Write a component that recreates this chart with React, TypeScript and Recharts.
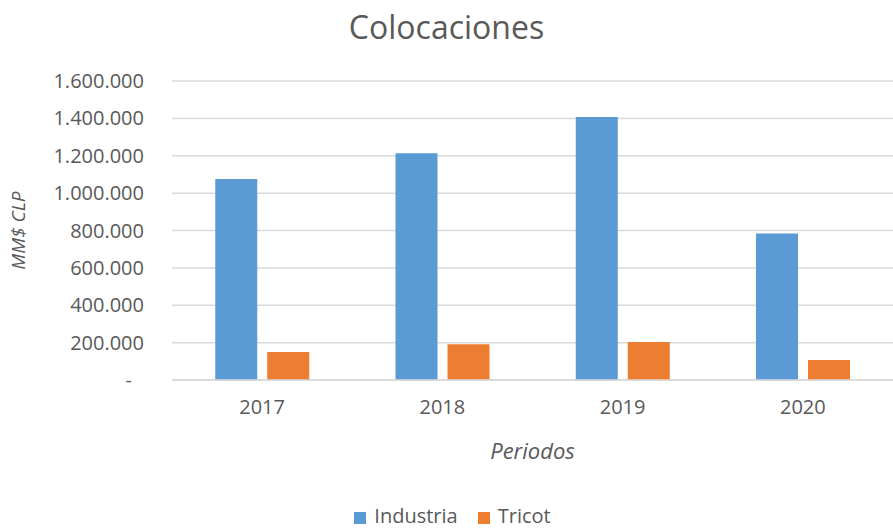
import { Bar, BarChart, CartesianGrid, Legend, XAxis, YAxis } from "recharts";

const periods = ["2017", "2018", "2019", "2020"];
const industria = [1075000, 1213000, 1408000, 784000];
const tricot = [150000, 191000, 204000, 107000];
const yTicks = [0, 200000, 400000, 600000, 800000, 1000000, 1200000, 1400000, 1600000];

const data = periods.map((p, i) => ({
  periodo: p,
  Industria: industria[i],
  Tricot: tricot[i],
}));

const TEXT = "#595959";
const FONT = "'Open Sans', sans-serif";

const fmt = (v: number) =>
  v === 0 ? "-" : String(v).replace(/\B(?=(\d{3})+(?!\d))/g, ".");

const YTick = (props: any) => {
  const { x, y, payload } = props;
  const v = payload.value as number;
  return (
    <text
      x={v === 0 ? x - 12 : x}
      y={y}
      dy={7}
      textAnchor="end"
      fill={TEXT}
      fontSize={20}
      fontFamily={FONT}
    >
      {fmt(v)}
    </text>
  );
};

export default function App() {
  return (
    <div style={{ position: "absolute", left: 0, top: 0, width: 893, height: 529, background: "#fff" }}>
      <div
        style={{
          position: "absolute",
          top: 5,
          width: 893,
          textAlign: "center",
          fontFamily: FONT,
          fontSize: 32,
          color: TEXT,
        }}
      >
        Colocaciones
      </div>
      <BarChart
        width={893}
        height={529}
        data={data}
        margin={{ top: 81, right: 0, bottom: 0, left: 0 }}
        barCategoryGap="24%"
        barGap={10}
      >
        <CartesianGrid vertical={false} stroke="#d9d9d9" strokeWidth={1.5} />
        <XAxis
          dataKey="periodo"
          axisLine={{ stroke: "#d9d9d9", strokeWidth: 1.5 }}
          tickLine={false}
          tick={{ fill: TEXT, fontSize: 20, fontFamily: FONT }}
          tickMargin={14}
          height={123}
          label={{
            value: "Periodos",
            position: "insideTop",
            offset: 63,
            fill: TEXT,
            fontSize: 22,
            fontFamily: FONT,
            fontStyle: "italic",
          }}
        />
        <YAxis
          width={172}
          domain={[0, 1600000]}
          ticks={yTicks}
          axisLine={false}
          tickLine={false}
          tick={<YTick />}
          tickMargin={22}
          label={{
            value: "MM$ CLP",
            angle: -90,
            position: "insideLeft",
            offset: 18,
            fill: TEXT,
            fontSize: 19,
            fontFamily: FONT,
            fontStyle: "italic",
            style: { textAnchor: "middle" },
          }}
        />
        <Legend
          verticalAlign="bottom"
          iconType="square"
          iconSize={12}
          wrapperStyle={{
            fontFamily: FONT,
            fontSize: 20,
            color: TEXT,
            lineHeight: "26px",
            paddingLeft: 16,
            bottom: 0,
          }}
          formatter={(value: string) => (
            <span style={{ color: TEXT, paddingLeft: 4, marginRight: 10 }}>{value}</span>
          )}
        />
        <Bar dataKey="Industria" fill="#5B9BD5" isAnimationActive={false} />
        <Bar dataKey="Tricot" fill="#ED7D31" isAnimationActive={false} />
      </BarChart>
    </div>
  );
}
